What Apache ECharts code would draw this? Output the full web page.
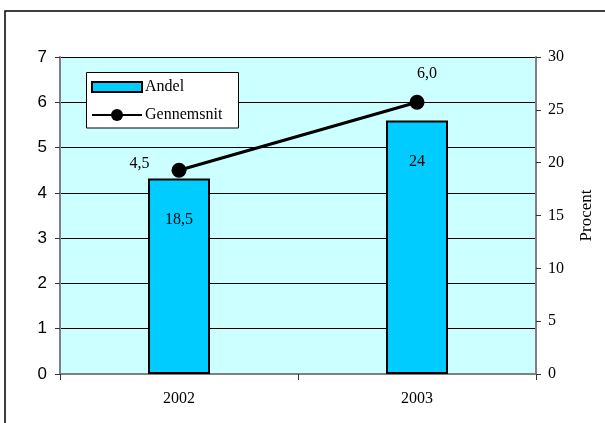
<!DOCTYPE html>
<html>
<head>
<meta charset="utf-8">
<script src="https://cdn.jsdelivr.net/npm/echarts@6/dist/echarts.min.js"></script>
<style>
html,body{margin:0;padding:0;background:#fff;}
#c{width:605px;height:423px;}
</style>
</head>
<body>
<div id="c"></div>
<script>
var categories = ['2002', '2003'];
var andel = [18.5, 24];
var gennemsnit = [4.5, 6.0];
var leftTicks = {min: 0, max: 7, interval: 1};
var rightTicks = {min: 0, max: 30, interval: 5};

var serif = '"Liberation Serif", "Times New Roman", serif';
var sans = '"Liberation Sans", Arial, sans-serif';
var fmtComma = function (v, d) { return (d == null ? String(v) : v.toFixed(d)).replace('.', ','); };

var lineLabelStyles = [
  {position: 'left', distance: 22, offset: [0, -6]},
  {position: 'top', distance: 12, offset: [10, -1]}
];

var chart = echarts.init(document.getElementById('c'), null, {renderer: 'canvas'});
chart.setOption({
  backgroundColor: '#fff',
  animation: false,
  grid: {left: 60, right: 69, top: 57, bottom: 49, show: true, backgroundColor: '#CCFFFF', borderWidth: 0},
  graphic: [
    {type: 'rect', z: 0, shape: {x: 5, y: 11, width: 700, height: 500}, style: {fill: 'none', stroke: '#000', lineWidth: 1.5}},
    {type: 'rect', z: 50, shape: {x: 86.5, y: 72.5, width: 152, height: 55.5}, style: {fill: '#fff', stroke: '#000', lineWidth: 1}}
  ],
  legend: [
    {data: [{name: 'Andel', icon: 'rect'}], left: 91, top: 79, itemWidth: 50, itemHeight: 10, itemGap: 4, padding: 0, z: 60,
     textStyle: {fontFamily: serif, fontSize: 16, color: '#000', padding: [0, 0, 0, -2]}},
    {data: ['Gennemsnit'], left: 91, top: 107, itemWidth: 50, itemHeight: 15, padding: 0, z: 60,
     textStyle: {fontFamily: serif, fontSize: 16, color: '#000', padding: [0, 0, 0, -2]}}
  ],
  xAxis: {
    type: 'category', data: categories,
    axisLine: {lineStyle: {color: '#808080', width: 2}},
    axisTick: {show: true, length: 6, lineStyle: {color: '#333', width: 1}},
    axisLabel: {fontFamily: serif, fontSize: 16, color: '#000', margin: 17}
  },
  yAxis: [
    {type: 'value', position: 'left', min: leftTicks.min, max: leftTicks.max, interval: leftTicks.interval,
     axisLine: {show: true, lineStyle: {color: '#808080', width: 2}},
     axisTick: {show: true, length: 5, lineStyle: {color: '#333'}},
     axisLabel: {fontFamily: sans, fontSize: 17, color: '#000', margin: 13},
     splitLine: {show: true, lineStyle: {color: '#000', width: 1}}},
    {type: 'value', position: 'right', min: rightTicks.min, max: rightTicks.max, interval: rightTicks.interval,
     name: 'Procent', nameLocation: 'middle', nameRotate: 90, nameGap: 42,
     nameTextStyle: {fontFamily: serif, fontSize: 17, color: '#000'},
     axisLine: {show: true, lineStyle: {color: '#808080', width: 2}},
     axisTick: {show: true, length: 5, lineStyle: {color: '#333'}},
     axisLabel: {fontFamily: serif, fontSize: 16, color: '#000', margin: 12},
     splitLine: {show: false}}
  ],
  series: [
    {name: 'Andel', type: 'bar', yAxisIndex: 1, data: andel, barWidth: 62,
     itemStyle: {color: '#00CCFF', borderColor: '#000', borderWidth: 2},
     label: {show: true, position: 'insideTop', distance: 33, fontFamily: serif, fontSize: 16, color: '#000',
             formatter: function (p) { return fmtComma(p.value); }}},
    {name: 'Gennemsnit', type: 'line', yAxisIndex: 0,
     data: gennemsnit.map(function (v, i) { return {value: v, label: lineLabelStyles[i]}; }),
     symbol: 'circle', symbolSize: 15,
     lineStyle: {color: '#000', width: 3}, itemStyle: {color: '#000'},
     label: {show: true, fontFamily: serif, fontSize: 16, color: '#000',
             formatter: function (p) { return fmtComma(p.value, 1); }}, z: 10}
  ]
});
</script>
</body>
</html>
